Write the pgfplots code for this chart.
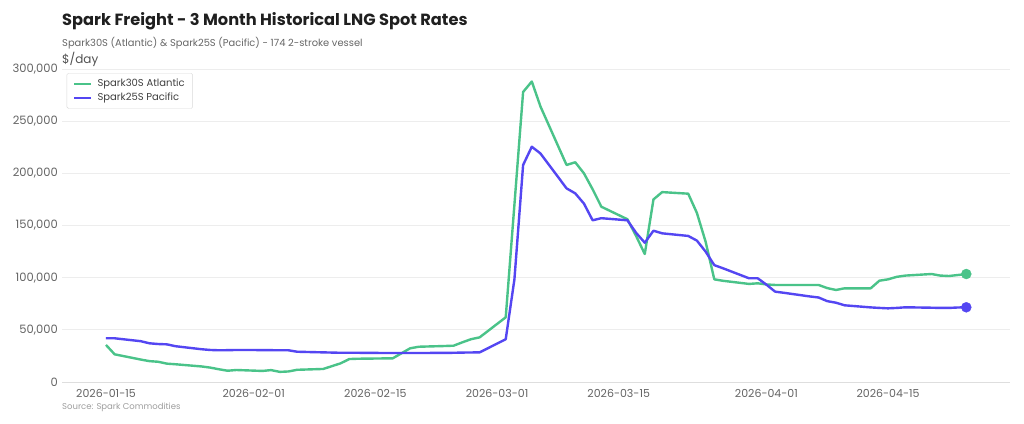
\documentclass[border=0pt]{standalone}
\usepackage{pgfplots}
\pgfplotsset{compat=1.18}
\usepackage{fontspec}
\setmainfont{Poppins}
\definecolor{cgreen}{RGB}{74,195,137}
\definecolor{cblue}{RGB}{84,70,242}
\definecolor{tickgray}{RGB}{100,100,100}
\begin{document}
\begin{tikzpicture}
\path[use as bounding box, fill=white] (0,0) rectangle (1024bp,424bp);
\begin{axis}[
  at={(62bp,42bp)}, anchor=south west,
  scale only axis, width=948bp, height=313bp,
  xmin=8.937, xmax=118.03, ymin=0, ymax=300000,
  xtick={14,31,45,59,73,90,104},
  xticklabels={2026-01-15,2026-02-01,2026-02-15,2026-03-01,2026-03-15,2026-04-01,2026-04-15},
  ytick={0,50000,100000,150000,200000,250000,300000},
  scaled y ticks=false,
  /pgf/number format/assume math mode=true,
  /pgf/number format/fixed,
  /pgf/number format/1000 sep={,},
  major tick length=0pt,
  axis x line*=bottom, axis y line*=left,
  x axis line style={draw=black!13, line width=1bp},
  y axis line style={draw=none},
  ymajorgrids, grid style={draw=black!7, line width=0.8bp},
  tick label style={font=\fontsize{11bp}{13bp}\selectfont, text=tickgray},
  yticklabel style={anchor=east, inner sep=0pt, xshift=-4bp, font=\fontsize{11.5bp}{13bp}\selectfont},
  xticklabel style={anchor=north, inner sep=0pt, yshift=-7bp},
  legend style={at={(0.005,0.987)}, anchor=north west, draw=black!15,
    rounded corners=1.5bp, font=\fontsize{10bp}{12bp}\selectfont, text=black!75,
    inner xsep=6bp, inner ysep=4bp, row sep=1bp, column sep=3bp},
  legend image code/.code={\draw[line width=2.6bp, rounded corners=0pt] (0bp,0bp) -- (17bp,0bp);},
  legend cell align=left,
  clip=false,
]
\addplot[cgreen, line width=2.4bp, line join=round] table[x=d, y=v] {
d v
14 35500
15 26500
18 21500
19 20000
20 19400
21 17600
22 17000
25 14900
26 13800
27 12200
28 10800
29 11500
32 10600
33 11400
34 9700
35 10100
36 11700
39 12500
40 15200
41 17900
42 22000
43 22300
46 22600
47 22700
48 27500
49 32300
50 33800
53 34500
54 34800
55 38000
56 41000
57 42800
60 62000
61 170000
62 278000
63 288000
64 264000
67 208000
68 210600
69 200000
70 184700
71 168000
74 156000
75 140000
76 122700
77 175000
78 182000
81 180500
82 162000
83 134500
84 98400
85 97000
88 94000
89 94600
90 93500
91 93000
92 93000
95 93000
96 93000
97 90000
98 88200
99 89800
102 89800
103 97100
104 98400
105 100800
106 102000
109 103500
110 102000
111 101600
112 102500
113 103500
};
\addlegendentry{Spark30S Atlantic}
\addplot[cblue, line width=2.4bp, line join=round] table[x=d, y=v] {
d v
14 41900
15 41900
18 39100
19 37100
20 36400
21 36100
22 34300
25 31400
26 30700
27 30400
28 30500
29 30700
32 30600
33 30500
34 30400
35 30400
36 29000
39 28400
40 28200
41 28000
42 28000
43 28000
46 27800
47 27800
48 27800
49 27800
50 27800
53 27900
54 28000
55 28200
56 28300
57 28400
60 41000
61 98400
62 208000
63 225500
64 219000
67 185600
68 180800
69 171000
70 155000
71 157000
74 155000
75 143000
76 133500
77 145000
78 142500
81 140000
82 135500
83 125000
84 112000
85 109000
88 99400
89 99400
90 93300
91 86600
92 85500
95 82000
96 81000
97 77500
98 76000
99 73500
102 71500
103 71000
104 70600
105 71000
106 71600
109 71200
110 71000
111 71000
112 71400
113 71600
};
\addlegendentry{Spark25S Pacific}
\addplot[cgreen, only marks, mark=*, mark size=5bp, forget plot] coordinates {(113,103500)};
\addplot[cblue, only marks, mark=*, mark size=5bp, forget plot] coordinates {(113,71600)};
\end{axis}
\node[anchor=base west, inner sep=0pt, font=\bfseries\fontsize{16.2bp}{18bp}\selectfont, text=black!88] at (62bp,398bp) {Spark Freight - 3 Month Historical LNG Spot Rates};
\node[anchor=base west, inner sep=0pt, font=\fontsize{9.9bp}{12bp}\selectfont, text=black!60] at (62bp,377bp) {Spark30S (Atlantic) \& Spark25S (Pacific) - 174 2-stroke vessel};
\node[anchor=base west, inner sep=0pt, font=\fontsize{12bp}{14bp}\selectfont, text=black!68] at (62bp,360bp) {\$/day};
\node[anchor=base west, inner sep=0pt, font=\fontsize{8.5bp}{10bp}\selectfont, text=black!38] at (62bp,15bp) {Source: Spark Commodities};
\end{tikzpicture}
\end{document}
